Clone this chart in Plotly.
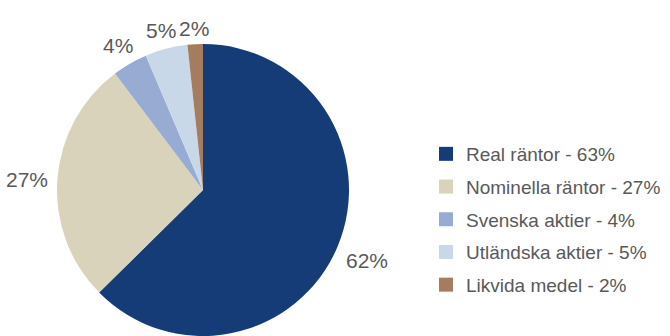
import math
import plotly.graph_objects as go

categories = ["Real räntor", "Nominella räntor", "Svenska aktier", "Utländska aktier", "Likvida medel"]
legend_pct = ["63%", "27%", "4%", "5%", "2%"]
values = [62.6, 27.1, 3.9, 4.7, 1.7]
slice_labels = ["62%", "27%", "4%", "5%", "2%"]
colors = ["#163C78", "#D9D3BC", "#97ABD3", "#C8D8E8", "#A67C5F"]

W, H = 670, 336
cx, cy, r = 203, 190, 146
FONT = "Liberation Sans, Arial, sans-serif"
LBL_SIZE = 21

fig = go.Figure()
fig.add_trace(go.Pie(
    labels=categories,
    values=values,
    textinfo="none",
    sort=False,
    direction="clockwise",
    rotation=0,
    marker=dict(colors=colors, line=dict(width=0)),
    showlegend=False,
    hoverinfo="label+percent",
    domain=dict(x=[(cx - r) / W, (cx + r) / W], y=[1 - (cy + r) / H, 1 - (cy - r) / H]),
))

# Outside percentage labels, placed at each slice's mid-angle
total = sum(values)
cum = 0.0
gap = 9
for v, t in zip(values, slice_labels):
    mid = (cum + v / 2) / total * 2 * math.pi
    cum += v
    ux, uy = math.sin(mid), -math.cos(mid)
    w = (0.556 * (len(t) - 1) + 0.889) * LBL_SIZE
    h = 16
    d = r + gap + (w / 2) * abs(ux) + (h / 2) * abs(uy)
    px, py = cx + d * ux, cy + d * uy + 2
    fig.add_annotation(
        x=px / W, y=1 - py / H, xref="paper", yref="paper",
        text=t, showarrow=False, xanchor="center", yanchor="middle",
        font=dict(family=FONT, size=LBL_SIZE, color="#595959"),
    )

for i, (c, p, col) in enumerate(zip(categories, legend_pct, colors)):
    fig.add_trace(go.Scatter(
        x=[None], y=[None], mode="markers",
        marker=dict(symbol="square", size=14, color=col),
        name=f"{c} - {p}",
        legendgroup=f"g{i}",
        showlegend=True,
    ))

fig.update_layout(
    width=W, height=H,
    margin=dict(l=0, r=0, t=0, b=0),
    paper_bgcolor="white", plot_bgcolor="white",
    xaxis=dict(visible=False), yaxis=dict(visible=False),
    legend=dict(
        x=426 / W, xanchor="left",
        y=1 - 135 / H, yanchor="top",
        font=dict(family=FONT, size=19, color="#595959"),
        tracegroupgap=5,
        bgcolor="rgba(0,0,0,0)",
        borderwidth=0,
    ),
)

fig.write_html("out.html")
